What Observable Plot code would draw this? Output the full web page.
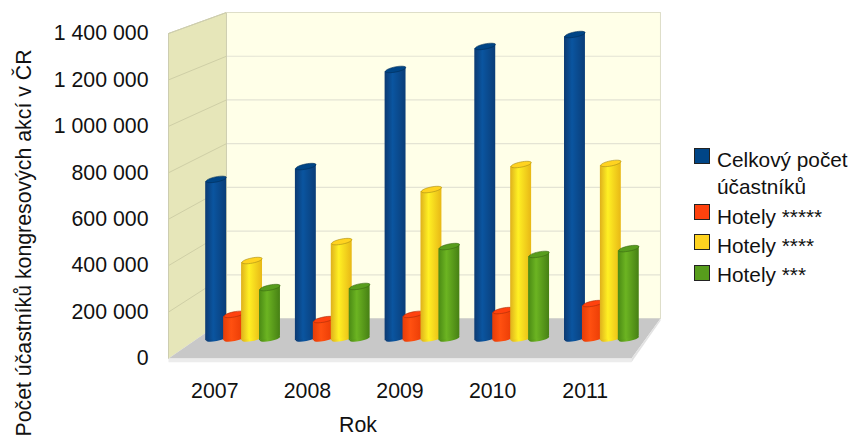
<!DOCTYPE html>
<html lang="cs">
<head>
<meta charset="utf-8">
<script src="https://cdn.jsdelivr.net/npm/d3@7"></script>
<script src="https://cdn.jsdelivr.net/npm/@observablehq/plot@0.6"></script>
<style>
html,body{margin:0;padding:0;background:#fff;}
#wrap{position:relative;width:851px;height:440px;overflow:hidden;font-family:"Liberation Sans",Arial,sans-serif;color:#111;}
#wrap svg{display:block;}
.lg{position:absolute;left:694px;top:146px;width:157px;height:160px;font-size:20.8px;}
.sw{position:absolute;left:0;width:14px;height:14px;border:1px solid #222;}
.tx{position:absolute;left:23px;line-height:20px;white-space:nowrap;}
</style>
</head>
<body>
<div id="wrap"></div>
<script>
const years = [2007, 2008, 2009, 2010, 2011];
const celkem = [706000, 763000, 1194000, 1296000, 1349000];
const hotely5 = [107000, 84000, 107000, 124000, 155000];
const hotely4 = [346000, 430000, 661000, 772000, 777000];
const hotely3 = [226000, 231000, 408000, 373000, 399000];
const yTicks = [0, 200000, 400000, 600000, 800000, 1000000, 1200000, 1400000];
const seriesNames = ["Celkový počet účastníků", "Hotely *****", "Hotely ****", "Hotely ***"];
const seriesColors = ["#004586", "#ff420e", "#ffd320", "#579d1c"];
const seriesValues = [celkem, hotely5, hotely4, hotely3];
const seriesOffsets = [-0.3, -0.1, 0.1, 0.3];
const gradientEdges = [
  ["#0c3a72", "#0a55a0", "#0a3d78"],
  ["#e63c08", "#ff5010", "#e83a04"],
  ["#deb01c", "#fff024", "#e8b816"],
  ["#4a8a14", "#6cb422", "#468014"]
];

// projection of the 3D box into the flat x / y scales: depth 0 is the front, 1 the back wall
const maxV = 1400000, xStart = 2006.5, nCat = 5;
const px = (u, d) => xStart + 0.626 * d + u * (1 - 0.0626 * d);
const pv = (v, d) => 172300 * d + v * (1 - 0.0585 * d);
const pt = (u, v, d) => ({x: px(u, d), y: pv(v, d)});

const halfW = 0.113, tiltV = 10000, barDepth = 0.5, barShift = 0.008;
const fmt = d => d3.format(",")(d).replace(/,/g, " ");

const leftWall = [pt(0,0,0), pt(0,0,1), pt(0,maxV,1), pt(0,maxV,0)];
const backWall = [pt(0,0,1), pt(nCat,0,1), pt(nCat,maxV,1), pt(0,maxV,1)];
const floor = [pt(0,0,0), pt(nCat,0,0), pt(nCat,0,1), pt(0,0,1)];
const slabFront = [pt(0,0,0), pt(nCat,0,0), pt(nCat,-16000,0), pt(0,-16000,0)];
const slabSide = [pt(nCat,0,0), pt(nCat,0,1), pt(nCat,-10000,1), pt(nCat,-16000,0)];
const backGrid = yTicks.flatMap(v => [{...pt(0,v,1), v}, {...pt(nCat,v,1), v}]);
const sideGrid = yTicks.slice(1).flatMap(v => [{...pt(0,v,0), v}, {...pt(0,v,1), v}]);

const tiltedEllipse = {
  draw(ctx, size) {
    const a = Math.sqrt(size / Math.PI), b = a * 0.25, t = -0.2;
    const c = Math.cos(t), s = Math.sin(t), k = 0.5523;
    const P = (x, y) => [x * c - y * s, x * s + y * c];
    const seg = (p1, p2, p3) => ctx.bezierCurveTo(...P(...p1), ...P(...p2), ...P(...p3));
    ctx.moveTo(...P(a, 0));
    seg([a, k*b], [k*a, b], [0, b]);
    seg([-k*a, b], [-a, k*b], [-a, 0]);
    seg([-a, -k*b], [-k*a, -b], [0, -b]);
    seg([k*a, -b], [a, -k*b], [a, 0]);
    ctx.closePath();
  }
};

const defs = () => {
  const g = d3.create("svg:g");
  const de = g.append("defs");
  gradientEdges.forEach((st, i) => {
    const lg = de.append("linearGradient").attr("id", "cyl" + i);
    lg.append("stop").attr("offset", "0%").attr("stop-color", st[0]);
    lg.append("stop").attr("offset", "38%").attr("stop-color", st[1]);
    lg.append("stop").attr("offset", "100%").attr("stop-color", st[2]);
  });
  return g.node();
};

const barMarks = seriesValues.flatMap((vals, s) => {
  const centers = years.map((y, i) => ({
    i, v: vals[i],
    x: px(i + 0.5 + seriesOffsets[s], barDepth) + barShift,
    yTop: pv(vals[i], barDepth),
    yBot: pv(0, barDepth)
  }));
  const body = centers.flatMap(c => [
    {i: c.i, x: c.x - halfW, y1: c.yBot - tiltV, y2: c.yTop - tiltV},
    {i: c.i, x: c.x + halfW, y1: c.yBot + tiltV, y2: c.yTop + tiltV}
  ]);
  const fill = `url(#cyl${s})`;
  return [
    Plot.dot(centers, {x: "x", y: "yBot", r: 10.3, symbol: tiltedEllipse, fill, stroke: "none"}),
    Plot.areaY(body, {x: "x", y1: "y1", y2: "y2", z: "i", fill, curve: "linear"}),
    Plot.dot(centers, {x: "x", y: "yTop", r: 10.3, symbol: tiltedEllipse, fill: seriesColors[s], stroke: d3.color(seriesColors[s]).darker(1.2).formatHex(), strokeWidth: 0.6})
  ];
});

const chart = Plot.plot({
  width: 851,
  height: 440,
  marginLeft: 168,
  marginRight: 220,
  marginTop: 33,
  marginBottom: 82,
  style: {fontFamily: '"Liberation Sans", Arial, sans-serif', color: "#111", background: "#fff"},
  x: {type: "linear", domain: [xStart, xStart + nCat], axis: null},
  y: {type: "linear", domain: [0, maxV], axis: null},
  marks: [
    defs,
    Plot.line(leftWall, {x: "x", y: "y", fill: "#e6e6b9", stroke: "none"}),
    Plot.line(backWall, {x: "x", y: "y", fill: "#ffffe8", stroke: "none"}),
    Plot.line(backGrid, {x: "x", y: "y", z: "v", stroke: "#e4e4d4", strokeWidth: 1.2}),
    Plot.line(sideGrid, {x: "x", y: "y", z: "v", stroke: "#cfcfa6", strokeWidth: 1}),
    Plot.line([pt(0,0,0), pt(0,maxV,0), pt(0,maxV,1), pt(0,0,1)], {x: "x", y: "y", stroke: "#cdcdb0", strokeWidth: 1}),
    Plot.line([pt(0,maxV,1), pt(nCat,maxV,1), pt(nCat,0,1)], {x: "x", y: "y", stroke: "#dedec8", strokeWidth: 1}),
    Plot.line(floor, {x: "x", y: "y", fill: "#c8c8c8", stroke: "none"}),
    Plot.line(slabFront, {x: "x", y: "y", fill: "#ececec", stroke: "none"}),
    Plot.line(slabSide, {x: "x", y: "y", fill: "#e2e2e2", stroke: "none"}),
    ...barMarks,
    Plot.axisY({ticks: yTicks, tickFormat: fmt, tickSize: 0, tickPadding: 20, label: null, fontSize: 21.3}),
    Plot.axisX({ticks: years, tickFormat: "d", tickSize: 0, tickPadding: 24, label: null, fontSize: 21.3}),
    Plot.text(["Počet účastníků kongresových akcí v ČR"], {frameAnchor: "left", dx: -144, dy: 47, rotate: -90, textAnchor: "middle", lineAnchor: "middle", fontSize: 21.3, fill: "#111"}),
    Plot.text(["Rok"], {frameAnchor: "bottom", dx: -42, dy: 67, textAnchor: "middle", lineAnchor: "middle", fontSize: 21.3, fill: "#111"})
  ]
});

const wrap = document.getElementById("wrap");
wrap.appendChild(chart);

const legend = document.createElement("div");
legend.className = "lg";
const rows = [
  {sw: 0, swTop: 2, lines: [["Celkový počet", 4], ["účastníků", 31]]},
  {sw: 1, swTop: 58, lines: [["Hotely *****", 61]]},
  {sw: 2, swTop: 88, lines: [["Hotely ****", 90]]},
  {sw: 3, swTop: 119, lines: [["Hotely ***", 119]]}
];
rows.forEach(r => {
  const sw = document.createElement("div");
  sw.className = "sw";
  sw.style.top = r.swTop + "px";
  sw.style.background = seriesColors[r.sw];
  legend.appendChild(sw);
  r.lines.forEach(([t, top]) => {
    const tx = document.createElement("div");
    tx.className = "tx";
    tx.style.top = top + "px";
    tx.textContent = t;
    legend.appendChild(tx);
  });
});
wrap.appendChild(legend);
</script>
</body>
</html>
